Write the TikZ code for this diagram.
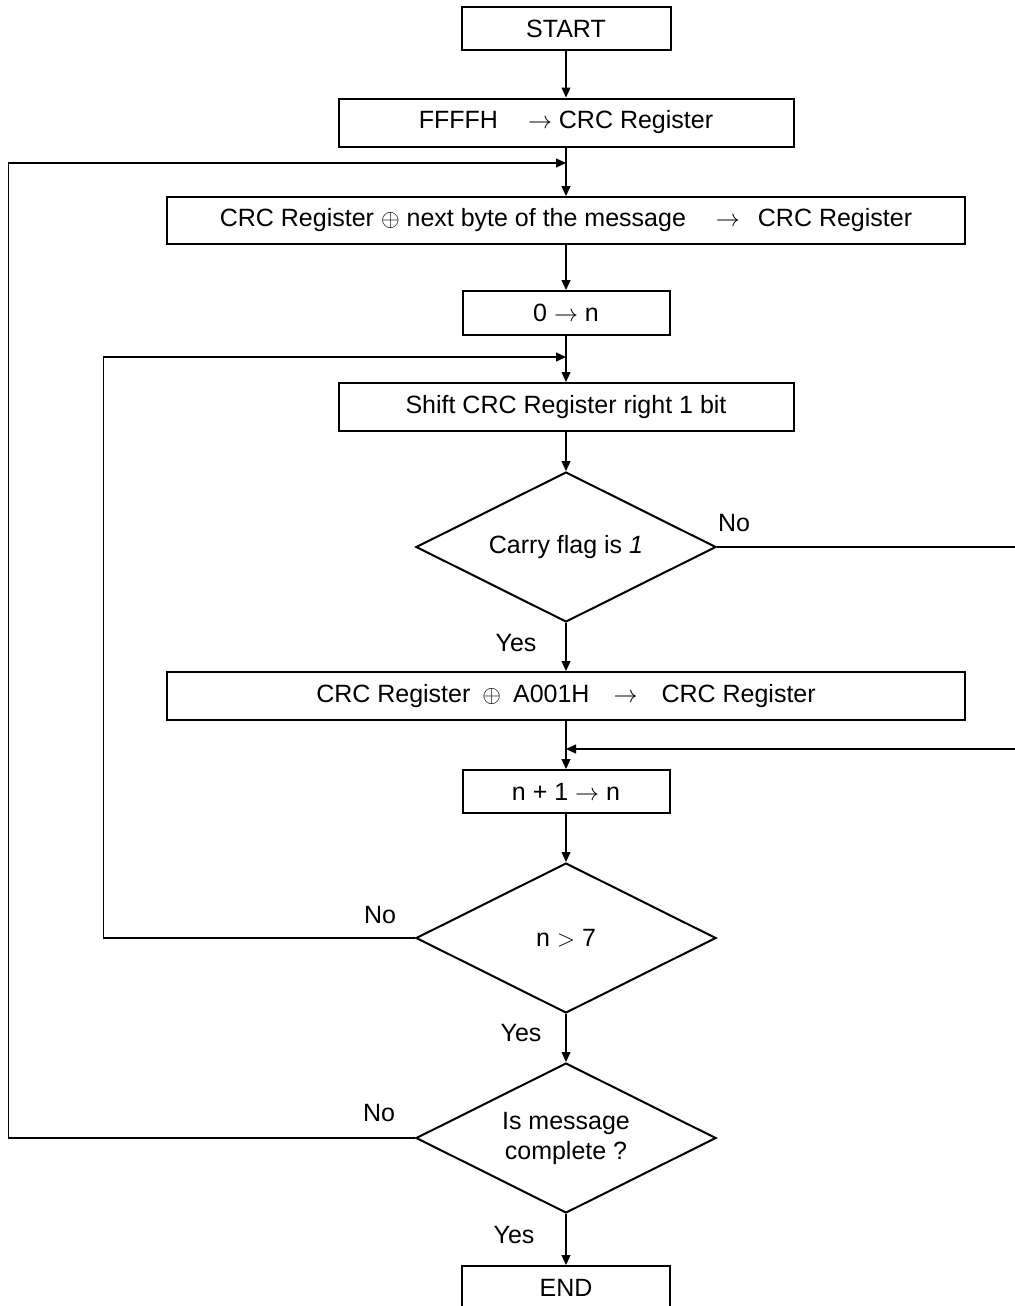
\documentclass[tikz,border=0pt]{standalone}
\usepackage{fontspec}
\setmainfont{Liberation Sans}
\usepackage{amsmath}
\usetikzlibrary{shapes.geometric,arrows.meta}

\begin{document}
\begin{tikzpicture}[x=0.5pt,y=-0.5pt,font=\fontsize{12.5}{15}\selectfont]
\tikzstyle{box}=[draw, shape=rectangle, line width=1pt, inner sep=0pt]
\tikzstyle{test}=[draw, shape=diamond, aspect=2, line width=1pt, inner sep=0pt,
  minimum width=150pt, minimum height=75pt, align=center]
\tikzstyle{line}=[line width=0.6pt]
\tikzstyle{arrow}=[line, -{Triangle[length=5pt,width=4.5pt]}]
\tikzstyle{answer}=[inner sep=0pt]
\useasboundingbox (0,0) rectangle (1015,1306);
% boxes and tests
\node at (566,28.5) [box, minimum width=104.5pt, minimum height=21.5pt] (start) {START};
\node at (566,122.5) [box, minimum width=227.5pt, minimum height=24pt] (init)
  {FFFFH\hspace{15pt}$\rightarrow$ CRC Register};
\node at (566,220.5) [box, minimum width=399pt, minimum height=23.5pt] (crc)
  {CRC Register $\oplus$ next byte of the message\hspace{15pt}$\rightarrow$\hspace{9pt}CRC Register};
\node at (566,313) [box, minimum width=103.5pt, minimum height=22pt] (zeron) {0 $\rightarrow$ n};
\node at (566,407) [box, minimum width=227.5pt, minimum height=24pt] (shift)
  {Shift CRC Register right 1 bit};
\node at (566,547) [test] (carry) {Carry flag is \textit{1}};
\node at (566,696) [box, minimum width=399pt, minimum height=24pt] (xor)
  {CRC Register\hspace{6pt}$\oplus$\hspace{6pt}A001H\hspace{12pt}$\rightarrow$\hspace{12pt}CRC Register};
\node at (566,791.5) [box, minimum width=103.5pt, minimum height=21.5pt] (inc) {n + 1 $\rightarrow$ n};
\node at (566,938) [test] (count) {n $>$ 7};
\node at (566,1138) [test] (done) {Is message\\complete ?};
\node at (566,1287.5) [box, minimum width=104pt, minimum height=21.5pt] (end) {END};
% joints and rails
\coordinate (j1) at (566,163);
\coordinate (j2) at (566,357);
\coordinate (j3) at (566,749);
\coordinate (outer) at (8.5,0);
\coordinate (inner) at (103.5,0);
\coordinate (rail) at (1022,0);
% answers
\node at (734,523) [answer] (no1) {No};
\node at (516,643) [answer] (yes1) {Yes};
\node at (380,915) [answer] (no2) {No};
\node at (521,1033) [answer] (yes2) {Yes};
\node at (379,1113) [answer] (no3) {No};
\node at (514,1235) [answer] (yes3) {Yes};
% flow
\draw[arrow] (start) -- (init);
\draw[arrow] (init) -- (crc);
\draw[arrow] (crc) -- (zeron);
\draw[arrow] (zeron) -- (shift);
\draw[arrow] (shift) -- (carry);
\draw[arrow] (carry) -- (xor);
\draw[arrow] (xor) -- (inc);
\draw[arrow] (inc) -- (count);
\draw[arrow] (count) -- (done);
\draw[arrow] (done) -- (end);
% loops
\draw[arrow] (carry.east) -- (carry.east -| rail) |- (j3);
\draw[arrow] (count.west) -- (count.west -| inner) |- (j2);
\draw[arrow] (done.west) -- (done.west -| outer) |- (j1);
\end{tikzpicture}
\end{document}
